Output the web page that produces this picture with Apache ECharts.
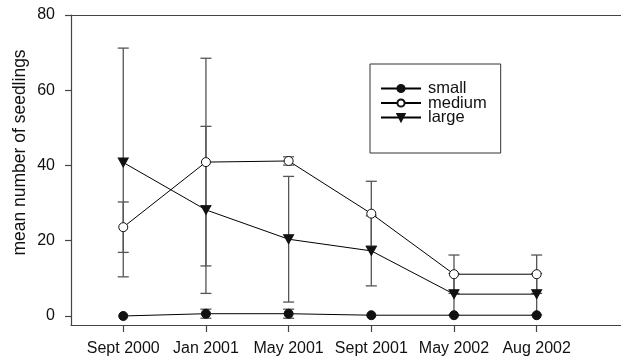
<!DOCTYPE html>
<html>
<head>
<meta charset="utf-8">
<script src="https://cdn.jsdelivr.net/npm/echarts@6/dist/echarts.min.js"></script>
<style>
html,body{margin:0;padding:0;background:#fff;}
#chart{width:621px;height:357px;}
</style>
</head>
<body>
<div id="chart"></div>
<script>
var categories = ['Sept 2000', 'Jan 2001', 'May 2001', 'Sept 2001', 'May 2002', 'Aug 2002'];
var yTicks = [0, 20, 40, 60, 80];
var smallMean = [0, 0.6, 0.6, 0.2, 0.2, 0.2];
var smallErr = [0, 1.2, 1.2, 0, 0, 0];
var mediumMean = [23.6, 40.9, 41.2, 27.2, 11.1, 11.1];
var mediumErr = [6.7, 27.6, 1.1, 8.6, 5.1, 5.1];
var largeMean = [40.8, 28.2, 20.4, 17.3, 5.8, 5.8];
var largeErr = [30.4, 22.2, 16.7, 9.3, 5.5, 5.5];

var FONT = 'Liberation Sans, Arial, sans-serif';
var AXIS_COLOR = '#444';

function pts(arr) { return arr.map(function (v, i) { return [i, v]; }); }
function errData(mean, err) {
  return mean.map(function (v, i) { return [i, v - err[i], v + err[i]]; });
}
function errSeries(mean, err) {
  return {
    type: 'custom',
    silent: true,
    z: 1,
    data: errData(mean, err),
    renderItem: function (params, api) {
      var x = api.value(0);
      var lo = api.coord([x, api.value(1)]);
      var hi = api.coord([x, api.value(2)]);
      var w = 5.5;
      var st = { stroke: '#555', lineWidth: 1.3 };
      if (Math.abs(hi[1] - lo[1]) < 0.5) return null;
      return {
        type: 'group',
        children: [
          { type: 'line', shape: { x1: lo[0], y1: lo[1], x2: hi[0], y2: hi[1] }, style: st },
          { type: 'line', shape: { x1: lo[0] - w, y1: lo[1], x2: lo[0] + w, y2: lo[1] }, style: st },
          { type: 'line', shape: { x1: hi[0] - w, y1: hi[1], x2: hi[0] + w, y2: hi[1] }, style: st }
        ]
      };
    }
  };
}

var chart = echarts.init(document.getElementById('chart'), null, { renderer: 'canvas' });
var xMin = -0.632, xMax = 6.02;
chart.setOption({
  animation: false,
  backgroundColor: '#fff',
  grid: { left: 71, right: 0, top: 15, bottom: 32 },
  xAxis: [{
    type: 'value', min: xMin, max: xMax, position: 'bottom',
    axisLine: { show: true, onZero: false, lineStyle: { color: AXIS_COLOR, width: 1.2 } },
    axisTick: { show: true, length: 7, inside: false, lineStyle: { color: AXIS_COLOR, width: 1.2 }, customValues: [0, 1, 2, 3, 4, 5] },
    axisLabel: {
      customValues: [0, 1, 2, 3, 4, 5],
      formatter: function (v) { return categories[Math.round(v)]; },
      margin: 16, color: '#111', fontSize: 16, fontFamily: FONT
    },
    splitLine: { show: false }
  }, {
    type: 'value', min: xMin, max: xMax, position: 'top',
    axisLine: { show: true, onZero: false, lineStyle: { color: AXIS_COLOR, width: 1.2 } },
    axisTick: { show: false }, axisLabel: { show: false }, splitLine: { show: false }
  }],
  yAxis: {
    type: 'value', min: -2.4, max: 80,
    axisLine: { show: true, onZero: false, lineStyle: { color: AXIS_COLOR, width: 1.2 } },
    axisTick: { show: true, length: 6, lineStyle: { color: AXIS_COLOR, width: 1.2 }, customValues: yTicks },
    axisLabel: { customValues: yTicks, margin: 16, color: '#111', fontSize: 16, fontFamily: FONT },
    splitLine: { show: false }
  },
  legend: {
    orient: 'vertical',
    left: 370, top: 64,
    padding: [16, 14, 27, 10],
    itemWidth: 40, itemHeight: 9, itemGap: -2.5,
    borderColor: '#333', borderWidth: 1,
    textStyle: { fontSize: 16.5, fontFamily: FONT, color: '#111', padding: [0, 0, 0, 2] },
    data: ['small', 'medium', 'large']
  },
  graphic: [{
    type: 'text',
    x: 20, y: 152.5,
    rotation: Math.PI / 2,
    style: { text: 'mean number of seedlings', fontSize: 17.5, fontFamily: FONT, fill: '#111', align: 'center', verticalAlign: 'middle' }
  }],
  series: [
    errSeries(smallMean, smallErr),
    errSeries(mediumMean, mediumErr),
    errSeries(largeMean, largeErr),
    {
      name: 'small', type: 'line', z: 3, data: pts(smallMean),
      symbol: 'circle', symbolSize: 9,
      lineStyle: { color: '#000', width: 1 },
      itemStyle: { color: '#111', borderColor: '#111', borderWidth: 1 }
    },
    {
      name: 'medium', type: 'line', z: 3, data: pts(mediumMean),
      symbol: 'circle', symbolSize: 9,
      lineStyle: { color: '#000', width: 1 },
      itemStyle: { color: '#fff', borderColor: '#111', borderWidth: 1 }
    },
    {
      name: 'large', type: 'line', z: 3, data: pts(largeMean),
      symbol: 'triangle', symbolSize: [10, 9], symbolRotate: 180,
      lineStyle: { color: '#000', width: 1 },
      itemStyle: { color: '#111', borderColor: '#111', borderWidth: 1 }
    }
  ]
});
</script>
</body>
</html>
